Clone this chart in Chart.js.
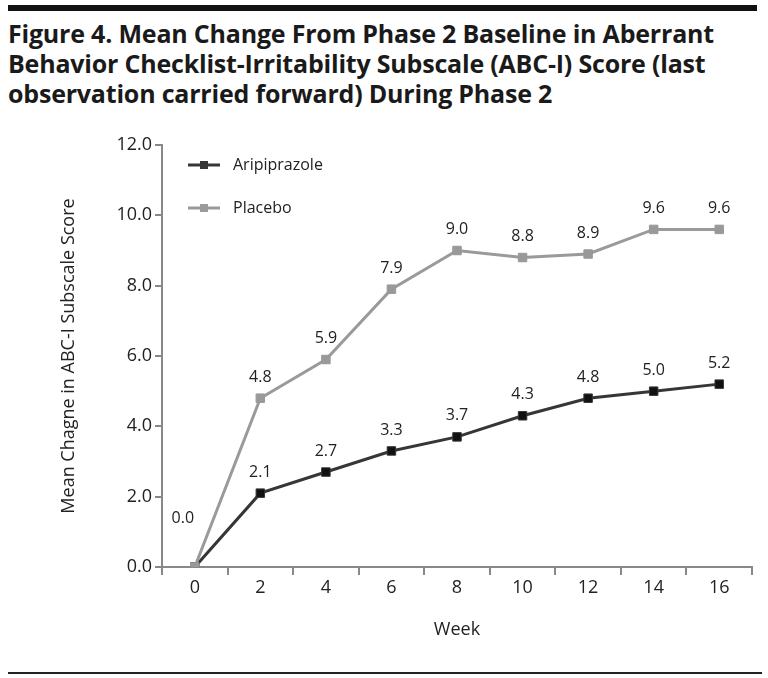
<!DOCTYPE html>
<html>
<head>
<meta charset="utf-8">
<script src="https://cdn.jsdelivr.net/npm/chart.js@4.4.1/dist/chart.umd.min.js"></script>
<style>
  html, body { margin: 0; padding: 0; background: #fff; }
  body { width: 768px; height: 678px; position: relative; overflow: hidden; }
  .topRule { position: absolute; left: 8px; top: 5px; width: 749px; height: 6px; background: #111; }
  .title {
    position: absolute; left: 8px; top: 18px; width: 760px;
    font-family: "Open Sans", sans-serif; font-weight: 700; font-size: 25px;
    line-height: 30px; color: #1a1a1a; letter-spacing: -0.2px; white-space: nowrap;
  }
  .bottomRule { position: absolute; left: 8px; top: 672px; width: 754px; height: 2px; background: #222; }
  #wrap { position: absolute; left: 0; top: 120px; width: 768px; height: 540px; }
</style>
</head>
<body>
<div class="topRule"></div>
<div class="title">Figure 4. Mean Change From Phase 2 Baseline in Aberrant<br>Behavior Checklist-Irritability Subscale (ABC-I) Score (last<br>observation carried forward) During Phase 2</div>
<div id="wrap"><canvas id="chart"></canvas></div>
<div class="bottomRule"></div>
<script>
const weeks = ['0', '2', '4', '6', '8', '10', '12', '14', '16'];
const aripiprazole = [0.0, 2.1, 2.7, 3.3, 3.7, 4.3, 4.8, 5.0, 5.2];
const placebo = [0.0, 4.8, 5.9, 7.9, 9.0, 8.8, 8.9, 9.6, 9.6];
const seriesNames = ['Aripiprazole', 'Placebo'];

const FONT = '"Open Sans", sans-serif';

// value labels above each point
const valueLabels = {
  id: 'valueLabels',
  afterDatasetsDraw(chart) {
    const ctx = chart.ctx;
    ctx.save();
    ctx.font = '16px ' + FONT;
    ctx.fillStyle = '#222';
    ctx.textAlign = 'center';
    ctx.textBaseline = 'middle';
    chart.data.datasets.forEach((ds, i) => {
      const meta = chart.getDatasetMeta(i);
      meta.data.forEach((pt, j) => {
        if (j === 0) {
          if (i === 1) ctx.fillText(ds.data[j].toFixed(1), pt.x - 12, pt.y - 49);
          return;
        }
        ctx.fillText(ds.data[j].toFixed(1), pt.x, pt.y - 21);
      });
    });
    ctx.restore();
  }
};

// legend inside the plot, top left
const innerLegend = {
  id: 'innerLegend',
  afterDraw(chart) {
    const ctx = chart.ctx;
    const x0 = chart.chartArea.left + 26;
    const rows = [{ y: chart.chartArea.top + 20, ds: chart.data.datasets[0] },
                  { y: chart.chartArea.top + 63, ds: chart.data.datasets[1] }];
    ctx.save();
    rows.forEach(r => {
      ctx.strokeStyle = r.ds.borderColor;
      ctx.lineWidth = 3;
      ctx.beginPath();
      ctx.moveTo(x0, r.y);
      ctx.lineTo(x0 + 32, r.y);
      ctx.stroke();
      ctx.fillStyle = r.ds.borderColor;
      ctx.fillRect(x0 + 12, r.y - 4, 8, 8);
      ctx.fillStyle = '#222';
      ctx.font = '16px ' + FONT;
      ctx.textBaseline = 'middle';
      ctx.fillText(r.ds.label, x0 + 45, r.y);
    });
    ctx.restore();
  }
};

new Chart(document.getElementById('chart'), {
  type: 'line',
  data: {
    labels: weeks,
    datasets: [
      {
        label: seriesNames[0],
        data: aripiprazole,
        borderColor: '#363636',
        borderWidth: 3,
        pointStyle: 'rect',
        pointRadius: 6,
        pointBackgroundColor: '#111',
        pointBorderColor: '#363636',
        pointBorderWidth: 1,
        order: 2
      },
      {
        label: seriesNames[1],
        data: placebo,
        borderColor: '#9a9a9a',
        borderWidth: 3,
        pointStyle: 'rect',
        pointRadius: 6,
        pointBackgroundColor: '#999',
        pointBorderColor: '#999',
        pointBorderWidth: 1,
        order: 1
      }
    ]
  },
  options: {
    responsive: true,
    maintainAspectRatio: false,
    animation: false,
    layout: { padding: { left: 0, right: 16, top: 25, bottom: 0 } },
    plugins: {
      legend: { display: false },
      tooltip: { enabled: false }
    },
    scales: {
      x: {
        offset: true,
        grid: { offset: true, drawOnChartArea: false, tickLength: 8, color: '#888', lineWidth: 2 },
        border: { color: '#888', width: 2 },
        ticks: { color: '#222', font: { family: FONT, size: 18 }, padding: 2, maxRotation: 0 },
        title: { display: true, text: 'Week', color: '#222', font: { family: FONT, size: 18 }, padding: { top: 0, bottom: 19 } },
        afterFit(s) { s.height = 93; }
      },
      y: {
        min: 0,
        max: 12,
        ticks: { stepSize: 2, color: '#222', font: { family: FONT, size: 18 }, padding: 3,
                 callback: v => v.toFixed(1) },
        grid: { drawOnChartArea: false, tickLength: 7, color: '#888', lineWidth: 2 },
        border: { color: '#888', width: 2 },
        title: { display: true, text: 'Mean Chagne in ABC-I Subscale Score', color: '#222',
                 font: { family: FONT, size: 18 }, padding: { top: 58, bottom: 0 } },
        afterFit(s) { s.width = 162; }
      }
    }
  },
  plugins: [valueLabels, innerLegend]
});
</script>
</body>
</html>
